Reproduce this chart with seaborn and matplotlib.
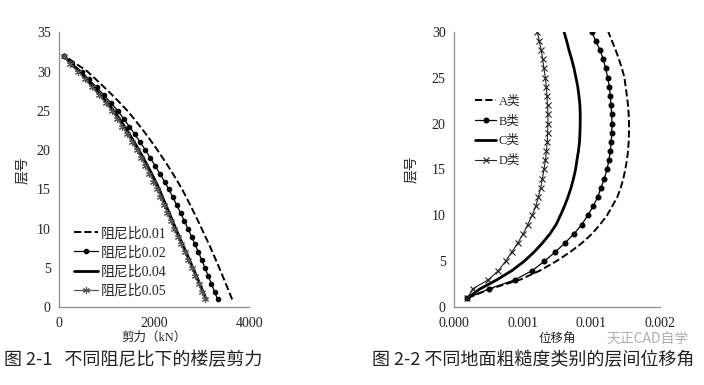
import numpy as np
import pandas as pd
import matplotlib
matplotlib.use("Agg")
import matplotlib.pyplot as plt
from matplotlib.lines import Line2D
from matplotlib.ticker import MultipleLocator, FormatStrFormatter
import seaborn as sns

# ---- data ----
floors_shear = list(range(1, 33))
shear_001 = [3640, 3574, 3507, 3439, 3370, 3300, 3228, 3154, 3078, 3000, 2922, 2842, 2760, 2676, 2590, 2494,
             2394, 2290, 2182, 2070, 1954, 1833, 1707, 1576, 1440, 1285, 1123, 953, 778, 600, 360, 120]
shear_002 = [3335, 3270, 3204, 3137, 3070, 3002, 2932, 2860, 2786, 2710, 2634, 2556, 2476, 2394, 2311, 2218,
             2122, 2023, 1921, 1816, 1708, 1596, 1480, 1360, 1236, 1094, 946, 791, 632, 475, 280, 115]
shear_004 = [3095, 3026, 2957, 2887, 2816, 2745, 2673, 2601, 2528, 2455, 2386, 2317, 2248, 2179, 2110, 2031,
             1948, 1862, 1773, 1680, 1584, 1484, 1379, 1269, 1155, 1022, 882, 735, 583, 430, 245, 110]
shear_005 = [3075, 3004, 2933, 2861, 2788, 2715, 2641, 2567, 2492, 2417, 2346, 2275, 2204, 2133, 2062, 1985,
             1901, 1814, 1724, 1631, 1535, 1435, 1331, 1222, 1109, 978, 840, 696, 547, 402, 225, 105]
shear_labels = ["阻尼比0.01", "阻尼比0.02", "阻尼比0.04", "阻尼比0.05"]

floors_drift = list(range(1, 31))
drift_A = [0.000098, 0.000262, 0.000480, 0.000626, 0.000743, 0.000844, 0.000932, 0.001005, 0.001063, 0.001114,
           0.001152, 0.001189, 0.001214, 0.001233, 0.001247, 0.001259, 0.001267, 0.001272, 0.001274, 0.001274,
           0.001272, 0.001267, 0.001259, 0.001250, 0.001241, 0.001223, 0.001201, 0.001177, 0.001150, 0.001123]
drift_B = [0.000098, 0.000255, 0.000444, 0.000570, 0.000657, 0.000735, 0.000808, 0.000874, 0.000930, 0.000973,
           0.001014, 0.001046, 0.001070, 0.001094, 0.001114, 0.001128, 0.001138, 0.001145, 0.001148, 0.001150,
           0.001148, 0.001143, 0.001138, 0.001131, 0.001119, 0.001104, 0.001087, 0.001063, 0.001032, 0.001002]
drift_C = [0.000098, 0.000189, 0.000313, 0.000422, 0.000510, 0.000582, 0.000644, 0.000699, 0.000743, 0.000775,
           0.000804, 0.000830, 0.000852, 0.000870, 0.000885, 0.000895, 0.000906, 0.000914, 0.000917, 0.000919,
           0.000919, 0.000917, 0.000910, 0.000901, 0.000888, 0.000874, 0.000857, 0.000837, 0.000820, 0.000801]
drift_D = [0.000098, 0.000135, 0.000250, 0.000323, 0.000375, 0.000420, 0.000464, 0.000504, 0.000537, 0.000568,
           0.000596, 0.000614, 0.000631, 0.000644, 0.000655, 0.000666, 0.000673, 0.000679, 0.000682, 0.000684,
           0.000684, 0.000681, 0.000677, 0.000672, 0.000665, 0.000655, 0.000646, 0.000635, 0.000621, 0.000606]
drift_labels = ["A类", "B类", "C类", "D类"]

sns.set_style("white")
plt.rcParams['font.family'] = ['Liberation Serif', 'Noto Sans CJK SC', 'DejaVu Sans']
plt.rcParams['axes.unicode_minus'] = False

# line styles per series: (linestyle, lw, marker, ms, color)
shear_styles = [("--", 1.4, None, 0, "black"),
                ("-", 0.9, "o", 3.2, "black"),
                ("-", 2.0, None, 0, "black"),
                ("-", 0.9, (6, 2, 0), 5, "#555555")]
drift_styles = [("--", 1.4, None, 0, "black"),
                ("-", 0.9, "o", 3.5, "black"),
                ("-", 2.0, None, 0, "black"),
                ("-", 0.8, "x", 4.5, "#222222")]

fig = plt.figure(figsize=(7.04, 3.85), dpi=100)
ax1 = fig.add_axes([0.0838, 0.2018, 0.2703, 0.7143])
ax2 = fig.add_axes([0.6449, 0.2018, 0.2926, 0.7159])


def draw(ax, floors, series, labels, styles):
    handles = []
    for vals, lab, (ls, lw, mk, ms, col) in zip(series, labels, styles):
        df = pd.DataFrame({"x": vals, "floor": floors})
        sns.lineplot(data=df, x="x", y="floor", ax=ax, estimator=None, sort=False, orient="y",
                     color=col, linestyle=ls, linewidth=lw, marker=mk, markersize=ms,
                     markeredgewidth=0.8, markeredgecolor=col, legend=False)
        handles.append(Line2D([], [], color=col, linestyle=ls, linewidth=lw, marker=mk,
                              markersize=ms, markeredgewidth=0.8, label=lab))
    return handles


def style_axes(ax):
    for s in ["top", "right"]:
        ax.spines[s].set_visible(False)
    for s in ["left", "bottom"]:
        ax.spines[s].set_color("#8c8c8c")
        ax.spines[s].set_linewidth(0.9)
    ax.tick_params(axis="both", direction="out", length=3, width=0.8, color="#8c8c8c",
                   labelsize=10, labelcolor="#222222")
    ax.tick_params(axis="x", pad=4)
    ax.tick_params(axis="y", pad=3)


# left: shear
h1 = draw(ax1, floors_shear, [shear_001, shear_002, shear_004, shear_005], shear_labels, shear_styles)
ax1.set_xlim(0, 4000)
ax1.set_ylim(0, 35)
ax1.xaxis.set_major_locator(MultipleLocator(2000))
ax1.yaxis.set_major_locator(MultipleLocator(5))
style_axes(ax1)
ax1.set_xlabel("剪力（kN）", fontsize=9, labelpad=1)
ax1.set_ylabel("层号", fontsize=10, labelpad=6)
ax1.legend(handles=h1, loc="lower left", bbox_to_anchor=(0.03, 0.0), frameon=False, fontsize=10,
           handlelength=1.7, handletextpad=0.2, labelspacing=0.4, borderpad=0.2)

# right: drift
h2 = draw(ax2, floors_drift, [drift_A, drift_B, drift_C, drift_D], drift_labels, drift_styles)
ax2.set_xlim(0, 0.0015)
ax2.set_ylim(0, 30)
ax2.xaxis.set_major_locator(MultipleLocator(0.0005))
ax2.xaxis.set_major_formatter(FormatStrFormatter("%.3f"))
ax2.yaxis.set_major_locator(MultipleLocator(5))
style_axes(ax2)
ax2.set_xlabel("位移角", fontsize=9, labelpad=2)
ax2.set_ylabel("层号", fontsize=10, labelpad=10)
ax2.legend(handles=h2, loc="upper left", bbox_to_anchor=(0.06, 0.80), frameon=False, fontsize=9,
           handlelength=1.7, handletextpad=0.2, labelspacing=0.62, borderpad=0.2)

# captions
fig.text(0.005, 0.052, "图 2-1   不同阻尼比下的楼层剪力", fontsize=13, color="#222222",
         family=['Noto Sans CJK SC', 'DejaVu Sans'])
fig.text(0.528, 0.052, "图 2-2 不同地面粗糙度类别的层间位移角", fontsize=13, color="#222222",
         family=['Noto Sans CJK SC', 'DejaVu Sans'])
fig.text(0.862, 0.108, "天正CAD自学", fontsize=10, color="#9a9a9a", alpha=0.8,
         family=['Noto Sans CJK SC', 'DejaVu Sans'])

fig.savefig("out.png", dpi=100)
